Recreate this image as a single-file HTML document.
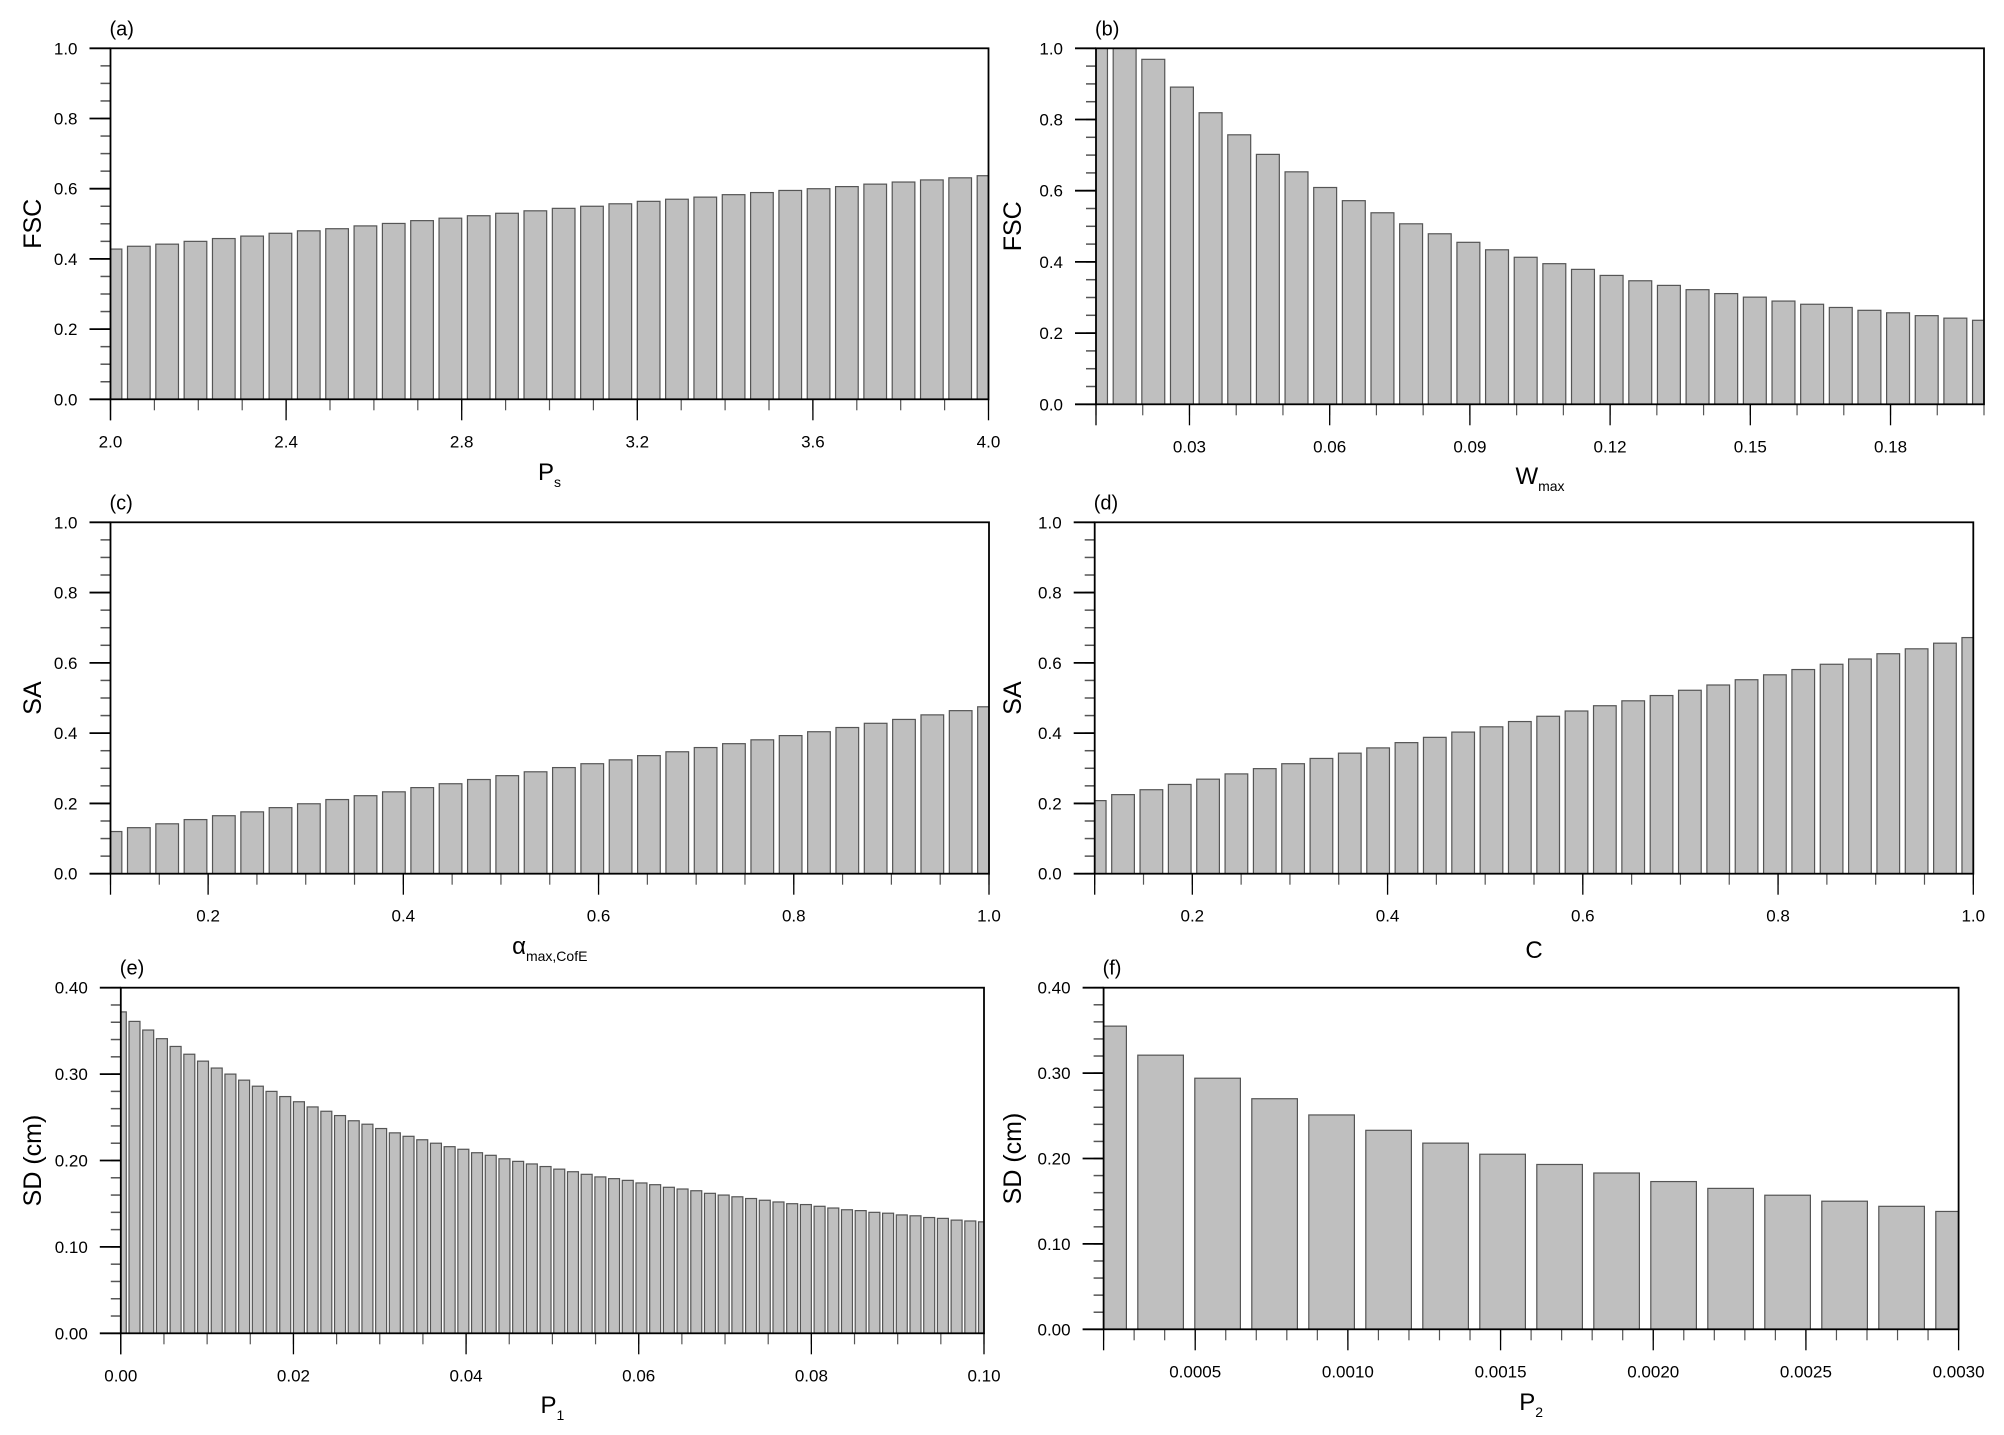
<!DOCTYPE html>
<html><head><meta charset="utf-8"><style>
html,body{margin:0;padding:0;background:#fff;}
svg{display:block;font-family:"Liberation Sans",sans-serif;}
</style></head><body>
<svg id="fig" width="2004" height="1435" viewBox="0 0 2004 1435" xmlns="http://www.w3.org/2000/svg"></svg>
<script>
// ---- data arrays ----
const aValues=[0.428,0.436,0.442,0.450,0.458,0.465,0.473,0.480,0.486,0.494,0.501,0.509,0.516,0.523,0.530,0.537,0.544,0.550,0.557,0.564,0.570,0.576,0.583,0.589,0.595,0.600,0.606,0.613,0.619,0.625,0.631,0.637];
const aXTicks=[2.0,2.4,2.8,3.2,3.6,4.0];
const aXTickLabels=["2.0","2.4","2.8","3.2","3.6","4.0"];
const bValues=[1.04,1.0,0.969,0.891,0.819,0.757,0.702,0.653,0.609,0.572,0.538,0.507,0.479,0.455,0.434,0.413,0.395,0.379,0.362,0.347,0.334,0.322,0.311,0.301,0.290,0.281,0.272,0.264,0.257,0.249,0.242,0.236];
const bXTicks=[0.03,0.06,0.09,0.12,0.15,0.18];
const bXTickLabels=["0.03","0.06","0.09","0.12","0.15","0.18"];
const cValues=[0.120,0.131,0.142,0.154,0.165,0.176,0.188,0.199,0.211,0.222,0.233,0.245,0.256,0.268,0.279,0.290,0.302,0.313,0.324,0.336,0.347,0.359,0.370,0.381,0.393,0.404,0.416,0.428,0.439,0.452,0.464,0.475];
const cXTicks=[0.2,0.4,0.6,0.8,1.0];
const cXTickLabels=["0.2","0.4","0.6","0.8","1.0"];
const dValues=[0.208,0.225,0.239,0.254,0.269,0.284,0.299,0.313,0.328,0.343,0.358,0.373,0.388,0.403,0.418,0.433,0.448,0.463,0.478,0.492,0.507,0.522,0.537,0.552,0.566,0.581,0.596,0.611,0.626,0.640,0.656,0.672];
const dXTicks=[0.2,0.4,0.6,0.8,1.0];
const dXTickLabels=["0.2","0.4","0.6","0.8","1.0"];
const eValues=[0.372,0.361,0.351,0.341,0.332,0.323,0.315,0.307,0.300,0.293,0.286,0.280,0.274,0.268,0.262,0.257,0.252,0.246,0.242,0.237,0.232,0.228,0.224,0.220,0.216,0.213,0.209,0.206,0.202,0.199,0.196,0.193,0.190,0.187,0.184,0.181,0.179,0.177,0.174,0.172,0.169,0.167,0.165,0.162,0.160,0.158,0.156,0.154,0.152,0.150,0.149,0.147,0.145,0.143,0.142,0.140,0.139,0.137,0.136,0.134,0.133,0.131,0.130,0.129];
const eXTicks=[0,0.02,0.04,0.06,0.08,0.10];
const eXTickLabels=["0.00","0.02","0.04","0.06","0.08","0.10"];
const fValues=[0.355,0.321,0.294,0.270,0.251,0.233,0.218,0.205,0.193,0.183,0.173,0.165,0.157,0.150,0.144,0.138];
const fXTicks=[0.0005,0.0010,0.0015,0.0020,0.0025,0.0030];
const fXTickLabels=["0.0005","0.0010","0.0015","0.0020","0.0025","0.0030"];
const yTicks01=[0,0.2,0.4,0.6,0.8,1.0];
const yTicks01Labels=["0.0","0.2","0.4","0.6","0.8","1.0"];
const yTicks04=[0,0.1,0.2,0.3,0.4];
const yTicks04Labels=["0.00","0.10","0.20","0.30","0.40"];

const NS="http://www.w3.org/2000/svg";
const svg=document.getElementById('fig');
function mk(tag,attrs,parent){const e=document.createElementNS(NS,tag);for(const k in attrs)e.setAttribute(k,attrs[k]);(parent||svg).appendChild(e);return e;}

function panel(p){
  const g=mk('g',{});
  
  
  const sx=v=>p.L+(v-p.xmin)/(p.xmax-p.xmin)*(p.R-p.L);
  const sy=v=>p.B-(v-p.ymin)/(p.ymax-p.ymin)*(p.B-p.T);
  const cp=mk('clipPath',{id:'clip-'+p.id},g);
  mk('rect',{x:p.L,y:p.T,width:p.R-p.L,height:p.B-p.T},cp);
  const bars=mk('g',{'clip-path':'url(#clip-'+p.id+')'},g);
  const n=p.values.length;
  const step=(p.xmax-p.xmin)/(n-1);
  const bw=(sx(p.xmin+step)-sx(p.xmin))*0.8;
  p.values.forEach((v,i)=>{
    const cx=sx(p.xmin+i*step);
    const r=mk('rect',{x:cx-bw/2,y:sy(v),width:bw,height:sy(0)-sy(v),fill:'#bfbfbf',stroke:'#555','stroke-width':1.2},bars);
    
    
  });
  // minor y ticks
  for(let v=p.ymin;v<=p.ymax+1e-9;v+=p.yMinor){
    mk('line',{x1:p.L-10,x2:p.L,y1:sy(v),y2:sy(v),stroke:'#555','stroke-width':1.5},g);
  }
  p.yTicks.forEach((v,i)=>{
    mk('line',{x1:p.L-21,x2:p.L,y1:sy(v),y2:sy(v),stroke:'#000','stroke-width':1.8},g);
    const t=mk('text',{x:p.L-33,y:sy(v)+6,'text-anchor':'end','font-size':17,fill:'#000'},g);
    t.textContent=p.yLabels[i];
    
    
  });
  // minor x ticks
  const mStart=Math.ceil((p.xmin-1e-9)/p.xMinor);
  for(let k=mStart;k*p.xMinor<=p.xmax+1e-9;k++){
    const x=sx(k*p.xMinor);
    mk('line',{x1:x,x2:x,y1:p.B,y2:p.B+11,stroke:'#555','stroke-width':1.2},g);
  }
  p.xTicks.forEach((v,i)=>{
    const x=sx(v);
    mk('line',{x1:x,x2:x,y1:p.B,y2:p.B+21,stroke:'#000','stroke-width':1.3},g);
    const t=mk('text',{x:x,y:p.B+48,'text-anchor':'middle','font-size':17,fill:'#000'},g);
    t.textContent=p.xLabels[i];
    
    
  });
  if(p.xmin===p.xTicks0){}
  mk('line',{x1:p.L,x2:p.L,y1:p.B+21,y2:p.B,stroke:'#000','stroke-width':1.3},g);
  mk('rect',{x:p.L,y:p.T,width:p.R-p.L,height:p.B-p.T,fill:'none',stroke:'#000','stroke-width':1.8},g);
  const pl=mk('text',{x:p.L-1,y:p.T-13,'font-size':20,fill:'#000'},g);
  pl.textContent='('+p.id+')';
  
  
  const yt=mk('text',{x:p.ytx,y:(p.T+p.B)/2,'font-size':25,'text-anchor':'middle',fill:'#000',transform:'rotate(-90 '+p.ytx+' '+((p.T+p.B)/2)+')','dominant-baseline':'central'},g);
  yt.textContent=p.ytitle;
  
  
  const xt=mk('text',{x:(p.L+p.R)/2,y:p.xty,'font-size':24,'text-anchor':'middle',fill:'#000'},g);
  
  
  const m=mk('tspan',{},xt);m.textContent=p.xmain;
  const s=mk('tspan',{dy:7,'font-size':14},xt);s.textContent=p.xsub;
}

panel({id:'a',L:110.5,R:988.5,T:48.3,B:399.3,xmin:2.0,xmax:4.0,ymin:0,ymax:1,values:aValues,yTicks:yTicks01,yLabels:yTicks01Labels,yMinor:0.05,xTicks:aXTicks,xLabels:aXTickLabels,xMinor:0.1,ytitle:'FSC',ytx:33,xmain:'P',xsub:'s',xty:480});
panel({id:'b',L:1096,R:1984,T:48.3,B:404.3,xmin:0.01,xmax:0.20,ymin:0,ymax:1,values:bValues,yTicks:yTicks01,yLabels:yTicks01Labels,yMinor:0.05,xTicks:bXTicks,xLabels:bXTickLabels,xMinor:0.01,ytitle:'FSC',ytx:1013,xmain:'W',xsub:'max',xty:484});
panel({id:'c',L:110.5,R:989,T:522.3,B:873.7,xmin:0.1,xmax:1.0,ymin:0,ymax:1,values:cValues,yTicks:yTicks01,yLabels:yTicks01Labels,yMinor:0.05,xTicks:cXTicks,xLabels:cXTickLabels,xMinor:0.05,ytitle:'SA',ytx:33,xmain:'α',xsub:'max,CofE',xty:954});
panel({id:'d',L:1094.7,R:1973.3,T:522.3,B:873.7,xmin:0.1,xmax:1.0,ymin:0,ymax:1,values:dValues,yTicks:yTicks01,yLabels:yTicks01Labels,yMinor:0.05,xTicks:dXTicks,xLabels:dXTickLabels,xMinor:0.05,ytitle:'SA',ytx:1013,xmain:'C',xsub:'',xty:958});
panel({id:'e',L:120.8,R:984,T:987.7,B:1333.3,xmin:0,xmax:0.10,ymin:0,ymax:0.4,values:eValues,yTicks:yTicks04,yLabels:yTicks04Labels,yMinor:0.02,xTicks:eXTicks,xLabels:eXTickLabels,xMinor:0.005,ytitle:'SD (cm)',ytx:33,xmain:'P',xsub:'1',xty:1413});
panel({id:'f',L:1103.6,R:1958.6,T:987.7,B:1329.3,xmin:0.0002,xmax:0.0030,ymin:0,ymax:0.4,values:fValues,yTicks:yTicks04,yLabels:yTicks04Labels,yMinor:0.02,xTicks:fXTicks,xLabels:fXTickLabels,xMinor:0.0001,ytitle:'SD (cm)',ytx:1013,xmain:'P',xsub:'2',xty:1410});
</script>
</body></html>
